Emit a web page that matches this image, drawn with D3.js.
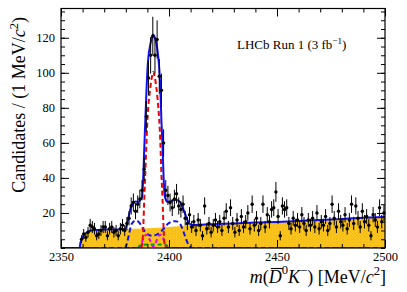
<!DOCTYPE html>
<html>
<head>
<meta charset="utf-8">
<script src="https://cdn.jsdelivr.net/npm/d3@7/dist/d3.min.js"></script>
<style>
  html, body { margin: 0; padding: 0; background: #fff; }
  svg { display: block; font-family: "Liberation Serif", "DejaVu Serif", serif; }
</style>
</head>
<body>
<div id="chart"></div>
<script>
// histogram: 1 MeV bins, first filled bin centred at 2359.5
const firstBinCentre = 2359.5;
const binWidth = 1;
const counts = [
  5, 8, 6, 9, 13, 12, 11, 7, 8, 10, 12, 12, 7, 11, 12, 9, 10, 7, 11, 13,
  10, 14, 17, 24, 26, 21, 25, 28, 33, 45, 75, 97, 110, 121, 110, 119, 98, 90, 60, 33,
  30, 26, 23, 28, 31, 24, 22, 25, 17, 14, 19, 12,
  15, 10, 16, 13, 7, 24, 11, 14, 9, 13, 16, 12, 15, 10, 17, 21, 12, 23, 14, 9,
  16, 10, 18, 12, 15, 20, 11, 25, 13, 17, 10, 14, 25, 12, 19, 15, 22, 23, 32, 18,
  7, 24, 22, 23, 14, 11, 17, 13, 16, 12, 19, 14, 10, 16, 13, 17, 12, 20, 11, 15,
  13, 18, 10, 14, 25, 17, 12, 21, 15, 13, 19, 11, 16, 25, 14, 24, 17, 12, 21, 15,
  18, 13, 7, 19, 16, 12, 23, 15, 20
];

// fit components
const totalMass = [2350, 2358.6, 2359, 2359.5, 2360, 2361, 2362, 2363, 2364, 2366, 2370, 2375, 2379.5, 2380.5,
  2381.5, 2382.5, 2383.5, 2384.5, 2385.5, 2386.5, 2387, 2387.5, 2388, 2388.5, 2389, 2389.5, 2390,
  2390.5, 2391, 2391.5, 2392, 2392.7, 2393.5, 2394, 2394.5, 2395, 2395.5, 2396, 2396.5, 2397,
  2397.5, 2398, 2398.5, 2399, 2399.5, 2400.5, 2401.5, 2402.5, 2403.5, 2404.5, 2405.5, 2406.5,
  2407.5, 2408.5, 2409.5, 2410.5, 2420, 2430, 2440, 2450, 2460, 2470, 2480, 2490, 2500];
const totalVals = [0, 0, 3, 5, 6.3, 8, 9, 9.6, 10, 10.3, 10.5, 10.6, 10.8, 13.3,
  18.9, 23.9, 25.9, 26.6, 26.3, 27.1, 28, 29.1, 38, 55.3, 71.8, 87.6, 101.4,
  109.6, 113.8, 117.1, 119.4, 121.7, 119.8, 117.5, 114.3, 109.2, 102.4, 90.2, 72.3, 58.6,
  40.4, 29.8, 27.8, 26.5, 26.4, 26.5, 27.1, 27.4, 27.4, 26.9, 25.5, 22.6,
  19.3, 16.0, 13.9, 13.1, 13.6, 14.0, 14.5, 14.9, 15.4, 16.0, 16.6, 17.2, 17.7];

const bkgMass = [2358.6, 2359, 2359.5, 2360, 2361, 2362, 2363, 2364, 2366, 2370, 2380, 2390, 2400,
  2410, 2420, 2430, 2440, 2450, 2460, 2470, 2480, 2490, 2500];
const bkgVals = [0, 3, 5, 6.3, 8, 9, 9.6, 10, 10.3, 10.5, 10.8, 11.3, 12.0,
  13.0, 13.6, 14.0, 14.5, 14.9, 15.4, 16.0, 16.6, 17.2, 17.7];

const dstarMass = [2350, 2379.5, 2380.5, 2381.5, 2382.5, 2383.5, 2384.5, 2385.5, 2386.5, 2387.5, 2388.5,
  2390, 2392, 2394, 2396, 2397.5, 2398.5, 2399.5, 2400.5, 2401.5, 2402.5, 2403.5, 2404.5,
  2405.5, 2406.5, 2407.5, 2408.5, 2409.5, 2410.5, 2500];
const dstarVals = [0, 0, 2.5, 8, 13, 15, 15.6, 15.3, 14, 12, 10,
  8, 7, 7.5, 9, 11, 12.5, 13.8, 14.6, 15.1, 15.3, 15.2, 14.6,
  13, 10, 6.5, 3.2, 1, 0, 0];

const sigMass = [2350, 2386, 2387, 2387.5, 2388, 2388.5, 2389, 2389.5, 2390, 2390.5, 2391, 2391.5, 2392,
  2392.7, 2393.5, 2394, 2394.5, 2395, 2395.5, 2396, 2396.5, 2397, 2397.5, 2398, 2398.5, 2399.5, 2500];
const sigVals = [0, 0, 0.3, 1.5, 9, 26, 42, 58, 73, 82, 88, 93, 97,
  100.5, 97, 93, 88, 81, 73, 60, 42, 28, 11, 1.5, 0.3, 0, 0];

const magMass = [2350, 2386, 2387, 2388, 2389, 2389.7, 2390.5, 2391.5, 2392.8, 2394, 2395, 2396, 2397, 2398, 2399, 2500];
const magVals = [0, 0, 2, 5, 7.2, 7.6, 6.5, 3.5, 0.8, 3.5, 6.5, 7.6, 6.5, 3, 0, 0];

const greenMass = [2350, 2385.5, 2386.5, 2388, 2392.8, 2397.5, 2399, 2400, 2500];
const greenVals = [0, 0, 1.5, 1.9, 2, 1.9, 1.5, 0, 0];

const xMajorTicks = [2350, 2400, 2450, 2500];
const yMajorTicks = [20, 40, 60, 80, 100, 120];

// set the dimensions and margins of the graph
const margin = { top: 8.5, right: 22, bottom: 44, left: 61 },
    width = 407 - margin.left - margin.right,
    height = 292 - margin.top - margin.bottom;

const svg = d3.select("#chart")
    .append("svg")
    .attr("width", 407)
    .attr("height", 292);

const defs = svg.append("defs");
const pat = defs.append("pattern")
    .attr("id", "hatch")
    .attr("patternUnits", "userSpaceOnUse")
    .attr("width", 3).attr("height", 3);
pat.append("rect").attr("width", 3).attr("height", 3).attr("fill", "#fdcb2a");
pat.append("path").attr("d", "M0,0L3,3M3,0L0,3")
    .attr("stroke", "#f0b000").attr("stroke-width", 0.6);

defs.append("clipPath").attr("id", "plotclip")
    .append("rect").attr("x", 0).attr("y", -2).attr("width", width).attr("height", height + 2);

const g = svg.append("g")
    .attr("transform", "translate(" + margin.left + "," + margin.top + ")");

const x = d3.scaleLinear().domain([2350, 2500]).range([0, width]);
const y = d3.scaleLinear().domain([0, 136.7]).range([height, 0]);

const plot = g.append("g").attr("clip-path", "url(#plotclip)");

// background (filled)
const area = d3.area()
    .x(d => x(d[0]))
    .y0(y(0))
    .y1(d => y(d[1]))
    .curve(d3.curveMonotoneX);
plot.append("path")
    .datum(d3.zip(bkgMass, bkgVals))
    .attr("d", area)
    .attr("fill", "url(#hatch)");

const line = d3.line()
    .x(d => x(d[0]))
    .y(d => y(d[1]))
    .curve(d3.curveMonotoneX);

function drawCurve(mass, vals, color, dash) {
  plot.append("path")
      .datum(d3.zip(mass, vals))
      .attr("d", line)
      .attr("fill", "none")
      .attr("stroke", color)
      .attr("stroke-width", 2)
      .attr("stroke-dasharray", dash);
}
drawCurve(dstarMass, dstarVals, "#1010f0", "5,3");
drawCurve(magMass, magVals, "#ee00ee", "4,3");
drawCurve(greenMass, greenVals, "#00a000", "4,3");
drawCurve(sigMass, sigVals, "#f00000", "5,3");
drawCurve(totalMass, totalVals, "#1010f0", null);

// data points with Poisson errors
const points = counts.map((n, i) => ({ m: firstBinCentre + i * binWidth, n: n, e: Math.sqrt(n) }));
const pts = g.append("g");
pts.selectAll("line.ey")
    .data(points).enter().append("line")
    .attr("x1", d => x(d.m)).attr("x2", d => x(d.m))
    .attr("y1", d => y(d.n - d.e)).attr("y2", d => y(d.n + d.e))
    .attr("stroke", "#000").attr("stroke-width", 1);
pts.selectAll("line.ex")
    .data(points).enter().append("line")
    .attr("x1", d => x(d.m - binWidth / 2)).attr("x2", d => x(d.m + binWidth / 2))
    .attr("y1", d => y(d.n)).attr("y2", d => y(d.n))
    .attr("stroke", "#000").attr("stroke-width", 1);
pts.selectAll("circle")
    .data(points).enter().append("circle")
    .attr("cx", d => x(d.m)).attr("cy", d => y(d.n))
    .attr("r", 1.7).attr("fill", "#000");

// axes, ticks inward on all four sides
const xMinor = d3.range(2350, 2501, 10);
const yMinor = d3.range(0, 136, 5);
function styleAxis(sel) {
  sel.select(".domain").remove();
  sel.selectAll(".tick line").attr("stroke", "#000").attr("stroke-width", 1);
  sel.selectAll("text").attr("fill", "#000").style("font-size", "12.5px")
      .style("font-family", '"Liberation Serif", serif');
}
g.append("g").attr("transform", "translate(0," + height + ")")
    .call(d3.axisBottom(x).tickValues(xMinor).tickSize(-4).tickFormat(""))
    .call(styleAxis);
g.append("g").attr("transform", "translate(0," + height + ")")
    .call(d3.axisBottom(x).tickValues(xMajorTicks).tickSize(-8).tickPadding(4).tickFormat(d3.format("d")))
    .call(styleAxis);
g.append("g")
    .call(d3.axisTop(x).tickValues(xMinor).tickSize(-4).tickFormat(""))
    .call(styleAxis);
g.append("g")
    .call(d3.axisTop(x).tickValues(xMajorTicks).tickSize(-8).tickFormat(""))
    .call(styleAxis);
g.append("g")
    .call(d3.axisLeft(y).tickValues(yMinor).tickSize(-4).tickFormat(""))
    .call(styleAxis);
g.append("g")
    .call(d3.axisLeft(y).tickValues(yMajorTicks).tickSize(-8).tickPadding(6))
    .call(styleAxis);
g.append("g").attr("transform", "translate(" + width + ",0)")
    .call(d3.axisRight(y).tickValues(yMinor).tickSize(-4).tickFormat(""))
    .call(styleAxis);
g.append("g").attr("transform", "translate(" + width + ",0)")
    .call(d3.axisRight(y).tickValues(yMajorTicks).tickSize(-8).tickFormat(""))
    .call(styleAxis);

g.append("rect")
    .attr("width", width).attr("height", height)
    .attr("fill", "none").attr("stroke", "#000").attr("stroke-width", 1.2);

// text helper: parts of [string, kind, raise]
function addParts(text, parts, size) {
  let shift = 0;
  parts.forEach(p => {
    const t = text.append("tspan").text(p[0]);
    const kind = p[1] || "";
    let target = 0;
    if (kind.includes("sup")) target = -(p[2] || 0.4) * size;
    if (target !== shift) { t.attr("dy", target - shift); shift = target; }
    if (kind.includes("it")) t.style("font-style", "italic");
    if (kind.includes("sup")) t.style("font-size", (size * 0.7) + "px");
  });
}

// x title
const xt = svg.append("text")
    .attr("x", 386).attr("y", 282.5)
    .attr("text-anchor", "end")
    .style("font-size", "18px");
addParts(xt, [["m", "it"], ["("], ["D", "it"], ["0", "sup", 0.5], ["K", "it"], ["\u2212", "sup"],
  [")"], [" [MeV/"], ["c", "it"], ["2", "sup"], ["]"]], 18);
const dBox = xt.node().getExtentOfChar(2);
svg.append("line")
    .attr("x1", dBox.x + 2).attr("x2", dBox.x + dBox.width + 1)
    .attr("y1", 282.5 - 14).attr("y2", 282.5 - 14)
    .attr("stroke", "#000").attr("stroke-width", 1.1);

// y title
const yt = svg.append("text")
    .attr("transform", "translate(25,17) rotate(-90)")
    .attr("text-anchor", "end")
    .style("font-size", "18px");
addParts(yt, [["Candidates / (1 MeV/"], ["c", "it"], ["2", "sup"], [")"]], 18);

// label
const lt = svg.append("text")
    .attr("x", 237).attr("y", 49)
    .style("font-size", "13px");
addParts(lt, [["LHCb Run 1 (3 fb"], ["\u22121", "sup"], [")"]], 13);
</script>
</body>
</html>
